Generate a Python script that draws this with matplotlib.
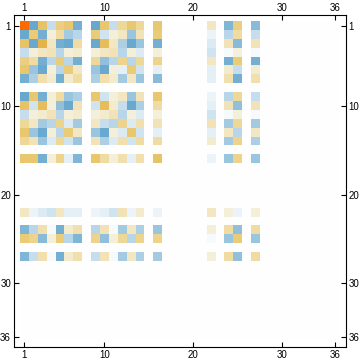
import numpy as np
import matplotlib
matplotlib.use('Agg')
import matplotlib.pyplot as plt
from matplotlib.colors import LinearSegmentedColormap, Normalize

tick_vals = [1, 10, 20, 30, 36]
n_cells = 36

# non-empty rows/columns of the matrix (1-based)
active = [1, 2, 3, 4, 5, 6, 7, 9, 10, 11, 12, 13, 14, 16, 22, 24, 25, 27]

# + is yellow side, - is blue side
row_values = [
    [12, -8, 7, -3, 5.5, 6.5, -7, -8, 6.5, -3, 4.5, 6.5, 4.5, 6.5, 2.5, -6.5, 5.5, -6],
    [-7.5, 6, -7, 1.5, 4, -4.5, -3.5, 6, -2.5, 1.5, 2.5, -5, 3, 6, -1, -3.5, 4, -3],
    [7, -7.5, 8.5, 2.5, -7, -7.5, 4, -7.5, 7.5, 2.5, -4, -7.5, -5, -7, -2, 3, -6, 3],
    [-3, 1.5, 2.5, 3, -3.5, 1.5, 2, 1.5, 2.5, 3, -3.5, 1.5, -2, 1.5, -2.5, -0.5, 1.5, -0.5],
    [5.5, 4, -7, -3.5, 6, -3.5, -7, 4.5, -5.5, -3.5, 5, -3.5, 4.5, 5, 2.5, -7, 6, -7],
    [6.5, -5, -7.5, 1.5, -3.5, 6, 2.5, -5, -7.5, 1.5, -1.5, 6, -2.5, -1.5, -1.5, 2, -3, 2],
    [-7, -4, 3.5, 2, -7, 2, 4, -4, 3.5, 2, -4.5, 2.5, -5, -6, -1.5, 3.5, -7, 3.5],
    [-8, 6.5, -7, 1.5, 4, -5, -4, 6.5, -2.5, 1.5, 2.5, -5, 3, 6.5, -1, -3.5, 4.5, -3],
    [7, -2.5, 7.5, 1.5, -5.5, -7.5, 3, -2.5, 7.5, 2, -3, -7.5, -4, 4, -1.5, 3, -5.5, 3],
    [-3, 1.5, 2, 3, -3.5, 1.5, 2, 1.5, 2, 3, -3.5, 1.5, -2, 1.5, -2.5, -0.5, 1.5, -0.5],
    [4.5, 2.5, -4.5, -3.5, 5, -2, -4.5, 2.5, -3, -3.5, 5, -2, 3.5, 3, 3, -4.5, 4.5, -4.5],
    [6.5, -5, -7.5, 1.5, -3.5, 6, 2.5, -5, -7.5, 1.5, -2, 6.5, -2.5, -1.5, -1.5, 2.5, -3.5, 2.5],
    [4.5, 3, -5, -2, 4.5, -2.5, -5, 3, -4, -2, 3.5, -2.5, 4, 4, 2, -4.5, 5, -4],
    [6.5, 6.5, -7, 1.5, 5, -1.5, -6.5, 6.5, 4, 1.5, 3.5, -1.5, 3.5, 7, -1, -5, 5, -5],
    [2.5, -1, -2, -2.5, 2.5, -1.5, -1.5, -1, -1.5, -2.5, 3, -1, 2, -1, 2.5, 1.5, -1, 1.5],
    [-6.5, -3.5, 3.5, -0.5, -7, 2, 3.5, -3.5, 3, -0.5, -4.5, 2.5, -4, -5, 1.5, 4, -5.5, 4],
    [6, 5, -6, 1.5, 6, -3.5, -6.5, 5, -5.5, 1.5, 4.5, -3.5, 5, 5, -0.5, -5, 6, -5],
    [-6.5, -3, 3.5, -0.5, -7, 2, 3.5, -3, 3, -0.5, -4.5, 2.5, -4, -4.5, 1.5, 4, -5.5, 4],
]

# colour stops, value -> colour
stop_vals = [-12, -7.5, -6.5, -5.5, -4.5, -3.5, -2.7, -1.8, -0.9, 0, 0.9, 1.8, 2.7, 3.6, 4.5, 5.5, 6.5, 8.5, 12]
stop_cols = ['#5A9FC8', '#6AA9CF', '#80B6D6', '#93C1DC', '#A3CAE1', '#B8D6E8', '#CDE2EF',
             '#E0EDF5', '#EFF6FA', '#FFFFFF', '#F6F5EA', '#F3EDD2', '#F2E6BE', '#F1DFAD',
             '#EFD998', '#ECCF82', '#E9C870', '#E6B44A', '#FF6A00']

cmap = LinearSegmentedColormap.from_list(
    'lake', [((v + 12) / 24, c) for v, c in zip(stop_vals, stop_cols)], N=512)

# fill the full matrix from the active rows/columns
matrix = np.zeros((n_cells, n_cells))
for i, r in enumerate(active):
    for j, c in enumerate(active):
        matrix[r - 1, c - 1] = row_values[i][j]

fig = plt.figure(figsize=(3.6, 3.63), dpi=100)
ax = fig.add_axes([13.5 / 360, 1 - 347.3 / 363, (346 - 13.5) / 360, (347.3 - 15.3) / 363])

ax.imshow(matrix, cmap=cmap, norm=Normalize(-12, 12), interpolation='nearest', aspect='auto',
          extent=(0.5, n_cells + 0.5, n_cells + 0.5, 0.5))
ax.set_xlim(-0.22, 37.24)
ax.set_ylim(37.2, -0.24)

ax.set_xticks(tick_vals)
ax.set_yticks(tick_vals)
ax.tick_params(which='both', direction='in', length=3.3, width=0.8, color='black', pad=1.8,
               top=True, bottom=True, left=True, right=True,
               labeltop=True, labelbottom=True, labelleft=True, labelright=True,
               labelsize=7)
for lab in ax.get_xticklabels() + ax.get_yticklabels():
    lab.set_family('Liberation Sans')
for s in ax.spines.values():
    s.set_linewidth(0.8)
    s.set_color('black')

fig.savefig('out.png', dpi=100)
